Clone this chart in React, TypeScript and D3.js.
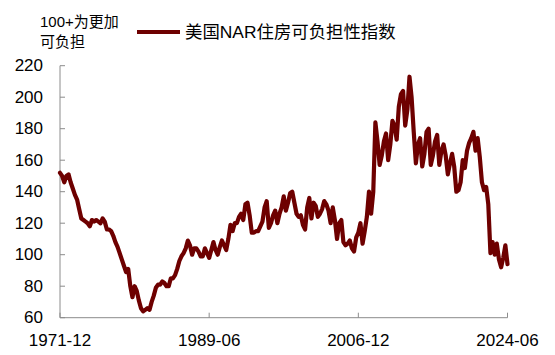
import React from "react";
import * as d3 from "d3";

// Quarterly readings (Mar, Jun, Sep, Dec), starting Dec 1971, ending Jun 2024
const startDate = "1971-12";
const affordability: number[] = [
  152,
  150, 146, 150, 151,
  146, 142, 138, 135,
  129, 123, 122, 121,
  120, 118, 122, 121,
  122, 121, 120, 123,
  121, 116, 116, 115,
  112, 108, 105, 101,
  97, 93, 89, 91,
  80, 73, 80, 77,
  71, 66, 64, 65,
  66, 65, 70, 74,
  79, 81, 81, 83,
  82, 80, 80, 85,
  85, 87, 91, 96,
  99, 101, 104, 109,
  106, 100, 104, 104,
  102, 99, 99, 104,
  101, 98, 103, 108,
  103, 100, 105, 109,
  106, 103, 110, 119,
  115, 120, 120, 124,
  126, 122, 132, 133,
  125, 114, 114, 115,
  115, 118, 121, 130,
  134, 117, 120, 125,
  128, 120, 126, 130,
  137, 128, 133, 139,
  140, 133, 126, 124,
  125, 119, 116, 130,
  136, 123, 133, 131,
  124, 126, 129, 134,
  132, 128, 120, 130,
  122, 110, 120, 122,
  108, 106, 107, 109,
  104, 102, 111, 114,
  120, 107, 115, 124,
  140, 126, 140, 184,
  172, 157, 163, 172,
  177, 160, 170, 185,
  182, 173, 194, 202,
  204, 182, 192, 213,
  200, 178, 158, 170,
  174, 156, 164, 178,
  180, 157, 163, 172,
  176, 157, 166, 170,
  163, 151, 158, 164,
  156, 140, 141, 146,
  160, 155, 166, 171,
  174, 178, 166, 174,
  162, 146, 141, 143,
  132, 101, 108, 100,
  107, 97, 92, 98,
  106, 94,
];

const yTicks = [60, 80, 100, 120, 140, 160, 180, 200, 220];
const xTickLabels = ["1971-12", "1989-06", "2006-12", "2024-06"];
const legendLabel = "美国NAR住房可负担性指数";
const unitLines = ["100+为更加", "可负担"];

const parseMonth = d3.timeParse("%Y-%m");

export default function App() {
  const W = 555;
  const H = 355;
  const left = 60;
  const right = 507.5;
  const top = 65.7;
  const bottom = 317.7;
  const font = "'Liberation Sans', Arial, 'Noto Sans CJK SC', sans-serif";

  const start = parseMonth(startDate) as Date;
  const data = affordability.map((v, i) => ({
    date: d3.timeMonth.offset(start, i * 3),
    value: v,
  }));

  const x = d3
    .scaleTime()
    .domain([parseMonth(xTickLabels[0]) as Date, parseMonth(xTickLabels[3]) as Date])
    .range([left, right]);
  const y = d3.scaleLinear().domain([60, 220]).range([bottom, top]);

  const line = d3
    .line<{ date: Date; value: number }>()
    .x((d) => x(d.date))
    .y((d) => y(d.value))
    .curve(d3.curveLinear);

  const axisColor = "#8c8c8c";
  const lineColor = "#6e0000";

  return (
    <svg
      width={W}
      height={H}
      style={{ position: "absolute", left: 0, top: 0, background: "#fff" }}
      fontFamily={font}
    >
      {/* unit label */}
      {unitLines.map((t, i) => (
        <text key={t} x={40} y={27 + i * 20} fontSize={15} fill="#000">
          {t}
        </text>
      ))}
      {/* legend */}
      <line x1={137} x2={180} y1={32} y2={32} stroke={lineColor} strokeWidth={4} />
      <text x={185} y={32} fontSize={17.4} dominantBaseline="central" fill="#000">
        {legendLabel}
      </text>

      {/* y axis */}
      <line x1={left} x2={left} y1={top} y2={bottom} stroke={axisColor} strokeWidth={1} />
      {yTicks.map((t) => (
        <g key={t}>
          <line x1={left} x2={left + 5} y1={y(t)} y2={y(t)} stroke={axisColor} strokeWidth={1} />
          <text
            x={43}
            y={y(t)}
            textAnchor="end"
            dominantBaseline="central"
            fontSize={17}
            fill="#000"
          >
            {t}
          </text>
        </g>
      ))}

      {/* x axis */}
      <line x1={left} x2={right} y1={bottom} y2={bottom} stroke={axisColor} strokeWidth={1} />
      {xTickLabels.map((lab) => {
        const xv = x(parseMonth(lab) as Date);
        return (
          <g key={lab}>
            <line x1={xv} x2={xv} y1={bottom} y2={bottom - 5} stroke={axisColor} strokeWidth={1} />
            <text x={xv} y={345.5} textAnchor="middle" fontSize={17} fill="#000">
              {lab}
            </text>
          </g>
        );
      })}

      {/* series */}
      <path
        d={line(data) || ""}
        fill="none"
        stroke={lineColor}
        strokeWidth={4.2}
        strokeLinejoin="round"
        strokeLinecap="round"
      />
    </svg>
  );
}
